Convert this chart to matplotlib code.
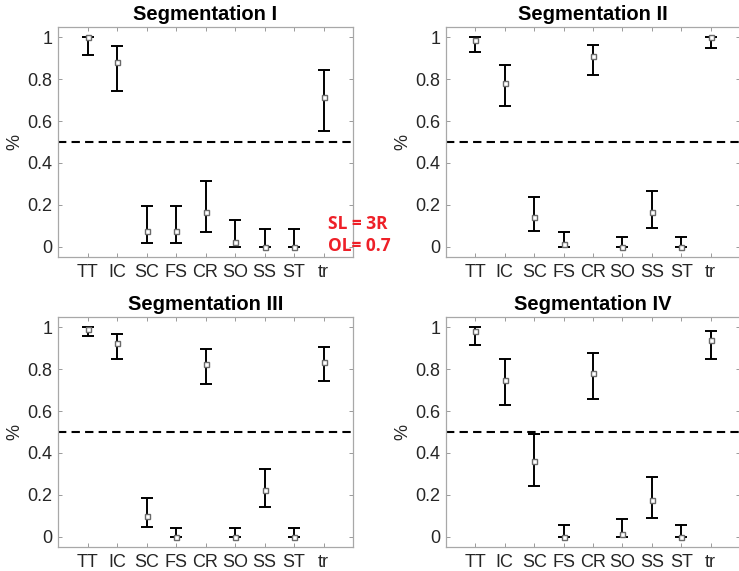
import numpy as np
import matplotlib
matplotlib.use("Agg")
import matplotlib.pyplot as plt

plt.rcParams["font.family"] = ["Liberation Sans", "DejaVu Sans"]

# classes on the x axis
classes = ["TT", "IC", "SC", "FS", "CR", "SO", "SS", "ST", "tr"]
titles = ["Segmentation I", "Segmentation II", "Segmentation III", "Segmentation IV"]

# estimate, lower bound, upper bound per class, one set per segmentation
seg1_mid = [1.000, 0.881, 0.072, 0.072, 0.167, 0.024, 0.000, 0.000, 0.713]
seg1_lo = [0.914, 0.742, 0.016, 0.016, 0.070, 0.000, 0.000, 0.000, 0.554]
seg1_hi = [1.000, 0.957, 0.196, 0.196, 0.312, 0.126, 0.085, 0.085, 0.842]

seg2_mid = [0.986, 0.780, 0.142, 0.014, 0.909, 0.000, 0.167, 0.000, 1.000]
seg2_lo = [0.930, 0.674, 0.073, 0.000, 0.822, 0.000, 0.091, 0.000, 0.951]
seg2_hi = [1.000, 0.866, 0.237, 0.070, 0.962, 0.046, 0.268, 0.046, 1.000]

seg3_mid = [0.995, 0.925, 0.100, 0.000, 0.825, 0.000, 0.222, 0.000, 0.836]
seg3_lo = [0.960, 0.848, 0.048, 0.000, 0.730, 0.000, 0.142, 0.000, 0.743]
seg3_hi = [1.000, 0.970, 0.182, 0.041, 0.896, 0.041, 0.321, 0.041, 0.906]

seg4_mid = [0.984, 0.750, 0.359, 0.000, 0.780, 0.014, 0.174, 0.000, 0.938]
seg4_lo = [0.915, 0.627, 0.244, 0.000, 0.660, 0.000, 0.091, 0.000, 0.847]
seg4_hi = [1.000, 0.850, 0.491, 0.057, 0.876, 0.085, 0.285, 0.057, 0.982]

threshold = 0.5
yticks = [0, 0.2, 0.4, 0.6, 0.8, 1]
ytick_labels = ["0", "0.2", "0.4", "0.6", "0.8", "1"]

W, H = 739, 571
fig = plt.figure(figsize=(W / 100, H / 100), dpi=100)

# axes boxes in pixels: left, top, right, bottom
boxes = [(58, 27, 353, 257), (446, 27, 740, 257),
         (58, 317, 353, 547), (446, 317, 740, 547)]

data = [(seg1_mid, seg1_lo, seg1_hi), (seg2_mid, seg2_lo, seg2_hi),
        (seg3_mid, seg3_lo, seg3_hi), (seg4_mid, seg4_lo, seg4_hi)]

x = np.arange(1, len(classes) + 1)

for (l, t, r, b), title, (mid, lo, hi) in zip(boxes, titles, data):
    ax = fig.add_axes([l / W, 1 - b / H, (r - l) / W, (b - t) / H])
    mid = np.array(mid)
    yerr = [mid - np.array(lo), np.array(hi) - mid]
    ax.errorbar(x, mid, yerr=yerr, fmt="none", ecolor="black",
                elinewidth=1.4, capsize=4.5, capthick=1.4, zorder=2)
    ax.plot(x, mid, ls="none", marker="s", ms=3.6, mfc="white",
            mec="#6a6a6a", mew=1.0, zorder=3)
    ax.axhline(threshold, color="black", lw=1.5, ls=(0, (4, 2.5)), zorder=1)

    ax.set_xlim(0, 10)
    ax.set_ylim(-0.05, 1.05)
    ax.set_xticks(x)
    ax.set_xticklabels(classes)
    ax.set_yticks(yticks)
    ax.set_yticklabels(ytick_labels)
    ax.tick_params(direction="in", top=True, right=True, length=3,
                   width=0.7, color="#9a9a9a", labelsize=13,
                   labelcolor="#262626", pad=4)
    ax.tick_params(axis="x", pad=5)
    for sp in ax.spines.values():
        sp.set_color("#a8a8a8")
        sp.set_linewidth(0.9)
    ax.set_title(title, fontsize=14.5, fontweight="bold", pad=5)
    ax.set_ylabel("%", fontsize=13, color="#262626")
    ax.yaxis.set_label_coords(-0.118, 0.5)

fig.text(328 / W, 1 - 229 / H, "SL = 3R", color="#ee2028", fontsize=12.5,
         fontweight="bold", family="Open Sans", va="baseline")
fig.text(328 / W, 1 - 251 / H, "OL= 0.7", color="#ee2028", fontsize=12.5,
         fontweight="bold", family="Open Sans", va="baseline")

fig.savefig("out.png", dpi=100)
